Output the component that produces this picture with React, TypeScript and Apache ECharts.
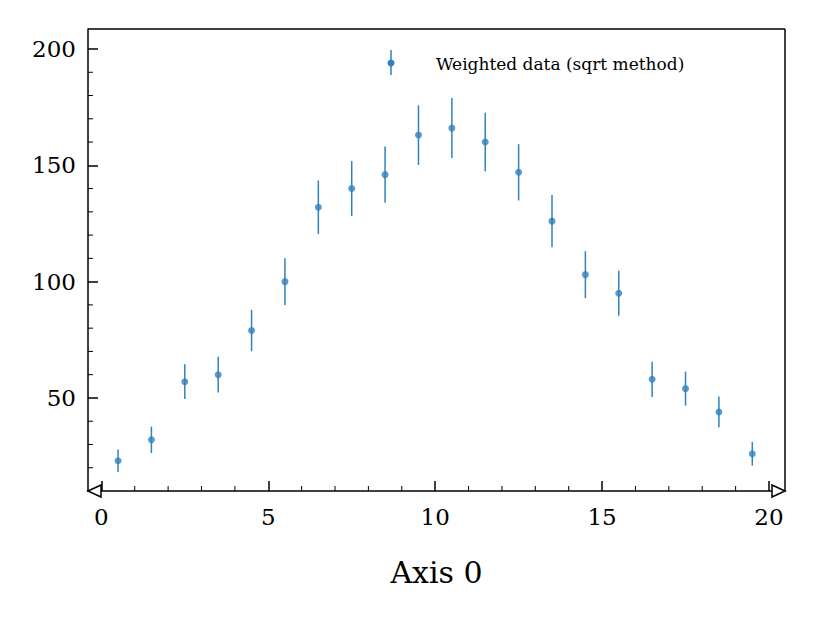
import React, { useEffect, useRef } from "react";
import * as echarts from "echarts";

const binCenters = [0.5, 1.5, 2.5, 3.5, 4.5, 5.5, 6.5, 7.5, 8.5, 9.5, 10.5, 11.5, 12.5, 13.5, 14.5, 15.5, 16.5, 17.5, 18.5, 19.5];
const counts = [23, 32, 57, 60, 79, 100, 132, 140, 146, 163, 166, 160, 147, 126, 103, 95, 58, 54, 44, 26];
const errors = [4.8, 5.7, 7.5, 7.7, 8.9, 10, 11.5, 11.8, 12.1, 12.8, 12.9, 12.6, 12.1, 11.2, 10.1, 9.7, 7.6, 7.3, 6.6, 5.1];
const xMajor = [0, 5, 10, 15, 20];
const xMinor = [1, 2, 3, 4, 6, 7, 8, 9, 11, 12, 13, 14, 16, 17, 18, 19];
const yMajor = [50, 100, 150, 200];
const yMinor = [20, 30, 40, 60, 70, 80, 90, 110, 120, 130, 140, 160, 170, 180, 190];
const legendLabel = "Weighted data (sqrt method)";
const xLabel = "Axis 0";

const FONT = "'DejaVu Serif', 'Liberation Serif', serif";
const BLUE = "#2f82bd";

const App: React.FC = () => {
    const ref = useRef<HTMLDivElement | null>(null);

    useEffect(() => {
        if (!ref.current) return;
        const chart = echarts.init(ref.current, undefined, { renderer: "svg" });

        const points = binCenters.map((x, i) => [x, counts[i]]);
        const bars = binCenters.map((x, i) => [x, counts[i] - errors[i], counts[i] + errors[i]]);

        const tickSeries = (data: number[][], horiz: boolean) => ({
            type: "custom",
            silent: true,
            renderItem: (params: any, api: any) => {
                const p = horiz ? api.coord([-0.4, api.value(1)]) : api.coord([api.value(0), 10]);
                return {
                    type: "line",
                    shape: horiz
                        ? { x1: p[0], y1: p[1], x2: p[0] + 5, y2: p[1] }
                        : { x1: p[0], y1: p[1], x2: p[0], y2: p[1] - 5 },
                    style: { stroke: "#000", lineWidth: 1 }
                };
            },
            data,
            z: 1
        });

        chart.setOption({
            animation: false,
            grid: { left: 88, right: 30, top: 29, bottom: 128 },
            xAxis: {
                type: "value",
                min: -0.4,
                max: 20.48,
                name: xLabel,
                nameLocation: "middle",
                nameGap: 66,
                nameTextStyle: { fontFamily: FONT, fontSize: 30, color: "#000" },
                axisLine: { onZero: false, lineStyle: { color: "#000", width: 1.5 } },
                axisTick: { inside: true, length: 10, lineStyle: { color: "#000", width: 1.5 }, customValues: xMajor },
                axisLabel: { fontFamily: FONT, fontSize: 23, color: "#000", margin: 14, customValues: xMajor },
                splitLine: { show: false }
            },
            yAxis: {
                type: "value",
                min: 10,
                max: 208.6,
                axisLine: { show: true, onZero: false, lineStyle: { color: "#000", width: 1.5 } },
                axisTick: { show: true, inside: true, length: 10, lineStyle: { color: "#000", width: 1.5 }, customValues: yMajor },
                axisLabel: { fontFamily: FONT, fontSize: 23, color: "#000", margin: 12, customValues: yMajor },
                splitLine: { show: false }
            },
            series: [
                {
                    type: "custom",
                    renderItem: (params: any, api: any) => {
                        const x = api.value(0);
                        const lo = api.coord([x, api.value(1)]);
                        const hi = api.coord([x, api.value(2)]);
                        return {
                            type: "line",
                            shape: { x1: lo[0], y1: lo[1], x2: hi[0], y2: hi[1] },
                            style: { stroke: BLUE, lineWidth: 1.5 }
                        };
                    },
                    data: bars,
                    z: 2
                },
                {
                    type: "scatter",
                    data: points,
                    symbolSize: 7,
                    itemStyle: { color: BLUE },
                    z: 3
                },
                tickSeries(yMinor.map((v) => [0, v]), true),
                tickSeries(xMinor.map((v) => [v, 10]), false)
            ],
            graphic: [
                { type: "line", shape: { x1: 88, y1: 29, x2: 785, y2: 29 }, style: { stroke: "#000", lineWidth: 1.5 } },
                { type: "line", shape: { x1: 785, y1: 29, x2: 785, y2: 491 }, style: { stroke: "#000", lineWidth: 1.5 } },
                { type: "polygon", shape: { points: [[88, 491], [101, 485], [101, 497]] }, style: { fill: "#fff", stroke: "#000", lineWidth: 1.5 }, z: 10 },
                { type: "polygon", shape: { points: [[785, 491], [772, 485], [772, 497]] }, style: { fill: "#fff", stroke: "#000", lineWidth: 1.5 }, z: 10 },
                { type: "line", shape: { x1: 391, y1: 50, x2: 391, y2: 75 }, style: { stroke: BLUE, lineWidth: 1.5 } },
                { type: "circle", shape: { cx: 391, cy: 63, r: 3.5 }, style: { fill: BLUE } },
                { type: "text", x: 436, y: 64, style: { text: legendLabel, font: `17px ${FONT}`, fill: "#000", verticalAlign: "middle" } }
            ]
        });

        return () => chart.dispose();
    }, []);

    return <div ref={ref} style={{ position: "absolute", left: 0, top: 0, width: 815, height: 619 }} />;
};

export default App;
